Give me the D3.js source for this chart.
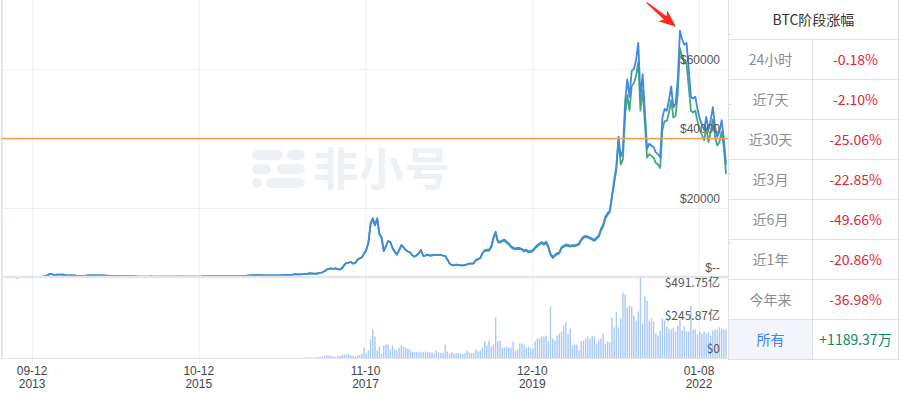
<!DOCTYPE html>
<html>
<head>
<meta charset="utf-8">
<script src="https://cdn.jsdelivr.net/npm/d3@7"></script>
<style>
  body { margin: 0; background: #fff; }
  svg { display: block; }
</style>
</head>
<body>
<svg id="chart" width="900" height="397"></svg>
<script>
// samples every 10 days starting 2013-04-28
const START_DATE = new Date(2013, 3, 28)
const STEP_DAYS = 10

// blue line (USD)
const priceBlue = [
  135,118,115,122,108,100,95,76,90,98,
  105,110,118,128,127,124,125,145,195,330,
  440,750,1050,880,680,800,850,820,790,670,
  580,620,630,580,480,440,480,440,445,580,
  620,590,600,630,620,590,580,510,510,480,
  480,420,400,360,390,345,370,380,370,350,
  330,315,275,210,235,225,240,275,290,260,
  250,235,225,230,240,237,237,228,245,255,
  290,280,285,280,260,230,235,230,235,245,
  265,315,380,330,365,395,440,435,430,450,
  380,380,410,420,410,415,420,420,425,445,
  455,450,530,570,720,670,680,665,655,600,
  580,575,575,605,610,610,640,655,700,715,
  740,770,780,890,1000,900,920,950,1000,1050,
  1150,1200,1100,1080,1200,1300,1500,1800,2300,2500,
  2600,2500,2600,2400,2300,2700,3600,4200,4300,4500,
  4000,4200,5100,5500,5800,6800,7900,10000,15500,17000,
  15000,17000,12500,11500,7600,9000,10500,10200,8500,7400,
  6600,7800,9300,8700,7900,7500,7200,6400,6000,6400,
  7000,7900,6200,6300,6600,6300,6400,6500,6500,6500,
  6500,6300,6200,5200,4000,3600,3500,3700,3600,3500,
  3500,3600,3800,4000,4000,4100,5000,5300,5600,7000,
  7900,8000,8000,9000,11500,13200,10500,10300,10700,10900,
  10300,9800,9000,8600,8400,8500,8500,8200,7800,8000,
  7500,7700,7900,8700,9300,9800,10200,9700,10300,9000,
  6800,5900,6500,7000,7200,8700,9100,9500,9400,9200,
  9300,9300,9500,9800,11000,11700,12000,11800,11500,11200,
  10800,11500,12000,14000,15200,17500,18500,19200,23500,28000,
  32000,40500,34800,36600,50500,57000,52000,59500,60000,62500,
  67500,52000,58500,48000,37000,38500,38000,37500,36000,35500,
  34500,46000,48500,48000,51000,55000,49000,50000,57000,71000,
  68500,67000,67500,60000,52000,51500,52000,48500,45800,44000,
  42400,46200,42400,45300,49000,43400,40500,42000,45300,40000,
  32400
]

// green line (USD)
const priceGreen = [
  135,118,115,122,108,100,95,76,90,98,
  105,110,118,128,127,124,125,145,195,330,
  440,750,1050,880,680,800,850,820,790,670,
  580,620,630,580,480,440,480,440,445,580,
  620,590,600,630,620,590,580,510,510,480,
  480,420,400,360,390,345,370,380,370,350,
  330,315,275,210,235,225,240,275,290,260,
  250,235,225,230,240,237,237,228,245,255,
  290,280,285,280,260,230,235,230,235,245,
  265,315,380,330,365,395,440,435,430,450,
  380,380,410,420,410,415,420,420,425,445,
  455,450,530,570,720,670,680,665,655,600,
  580,575,575,605,610,610,640,655,700,715,
  740,770,780,890,1000,900,920,950,1000,1050,
  1150,1200,1100,1080,1200,1300,1500,1800,2300,2500,
  2600,2500,2600,2400,2300,2700,3600,4200,4300,4500,
  4000,4200,5100,5500,5800,6800,7900,10000,15500,17000,
  15000,17000,12500,11500,7600,9000,10500,10200,8500,7400,
  6600,7800,9300,8700,7900,7500,7200,6400,6000,6400,
  7000,7900,6200,6300,6600,6300,6400,6500,6500,6500,
  6500,6300,6200,5200,4000,3600,3500,3700,3600,3500,
  3500,3600,3800,4000,4000,4100,5000,5300,5600,7000,
  7600,7700,7700,8700,11200,12800,10200,10000,10400,10600,
  10000,9500,8700,8300,8100,8200,8200,7900,7500,7700,
  7200,7400,7600,8400,9000,9500,9900,9400,10000,8700,
  6500,5600,6200,6700,6900,8400,8800,9200,9100,8900,
  9000,9000,9200,9500,10700,11400,11700,11500,11200,10900,
  10500,11200,11700,13500,14700,17000,18000,18700,23000,27000,
  31000,39500,32500,34000,46500,52500,48000,55000,56000,58000,
  62000,48000,54000,44500,34500,35500,35000,34500,33000,32500,
  31500,42500,45000,45000,47500,51000,46000,46500,53000,66000,
  63500,62000,61500,55000,48000,47500,48000,45000,42500,41000,
  39500,43000,39000,42000,45500,40500,38000,39000,42000,37500,
  29800
]

// volume, 亿 USD
const volume = [
  0.6,0.5,0.4,0.4,0.3,0.3,0.3,0.3,0.3,0.3,
  0.3,0.3,0.3,0.4,0.4,0.4,0.5,0.8,1.2,2.0,
  3.0,4.0,5.0,3.0,2.0,1.5,1.5,1.2,1.5,1.2,
  1.0,0.8,0.7,0.6,0.8,0.5,0.4,0.5,0.4,0.5,
  0.5,0.4,0.4,0.3,0.3,0.3,0.3,0.3,0.2,0.2,
  0.2,0.3,0.4,0.3,0.3,0.2,0.2,0.2,0.2,0.2,
  0.2,0.3,0.4,0.5,0.4,0.3,0.2,0.2,0.3,0.2,
  0.2,0.2,0.2,0.2,0.2,0.2,0.2,0.2,0.2,0.3,
  0.3,0.3,0.3,0.3,0.4,0.5,0.3,0.3,0.3,0.3,
  0.4,0.8,1.0,0.8,0.6,0.7,0.9,0.7,0.6,0.5,
  0.6,0.6,0.7,0.6,0.5,0.6,0.5,0.5,0.6,0.6,
  0.7,0.7,1.0,1.5,2.5,1.8,1.5,1.0,0.8,0.8,
  0.7,0.7,0.7,0.8,0.8,0.8,0.9,0.9,1.0,1.2,
  1.5,1.2,1.3,1.8,2.5,2.5,6,6,7,8,
  9,8,8,9,11,11,15,22,26,22,
  22,15,15,22,19,26,30,30,34,22,
  19,15,19,26,37,82,37,60,142,216,
  164,60,89,37,97,104,104,67,97,67,
  60,82,97,89,82,75,67,52,48,48,
  52,45,48,52,48,45,45,37,60,45,
  41,41,104,52,37,45,37,37,41,37,
  34,37,60,45,41,41,67,52,60,82,
  127,97,134,89,104,305,127,134,82,82,
  89,82,82,127,60,67,112,112,104,82,
  89,75,75,127,149,149,164,164,171,127,
  387,149,134,171,186,201,246,276,186,224,
  97,104,104,60,127,134,149,164,149,171,
  164,112,134,149,186,112,127,119,305,231,
  350,231,298,492,477,380,395,387,320,283,
  350,618,261,462,432,283,298,276,186,171,
  209,298,283,238,224,216,231,201,246,290,
  209,238,201,201,395,216,216,179,201,186,
  201,186,194,171,209,216,216,231,224,216,
  216
]

const priceTicks = [0, 20000, 40000, 60000]
const priceMinorTicks = [10000, 30000, 50000, 70000]
const volumeTicks = [0, 245.87, 491.75]
const refPrice = 40000
const tickDates = [new Date(2013, 8, 12), new Date(2015, 9, 12), new Date(2017, 10, 10), new Date(2019, 11, 10), new Date(2022, 0, 8)]

const periodLabels = ["24小时", "近7天", "近30天", "近3月", "近6月", "近1年", "今年来", "所有"]
const periodChanges = ["-0.18%", "-2.10%", "-25.06%", "-22.85%", "-49.66%", "-20.86%", "-36.98%", "+1189.37万"]

const GRID_COLOR = "#eef0f5"
const BORDER_COLOR = "#e3e6ee"
const BLUE = "#4189de"
const GREEN = "#43a77f"
const BAR_COLOR = "#a9c9f6"
const LATIN = "'Liberation Sans', Arial, sans-serif"
const CJK = "'Noto Sans CJK SC', 'Liberation Sans', sans-serif"

const svg = d3.select("#chart")

const dateAt = i => d3.timeDay.offset(START_DATE, i * STEP_DAYS)

const x = d3.scaleTime()
  .domain([START_DATE, new Date(2022, 4, 25)])
  .range([2, 729.1])

const yPrice = d3.scaleLinear().domain([0, 80000]).range([277.5, -0.5])
const yVol = d3.scaleLinear().domain([0, 491.75]).range([358.5, 292.5])

// vertical grid + small ticks under the volume pane
svg.append("g")
  .attr("transform", "translate(0,363)")
  .call(d3.axisBottom(x).tickValues(tickDates).tickSize(-363).tickFormat(""))
  .call(g => g.select(".domain").remove())
  .call(g => g.selectAll(".tick line").attr("stroke", GRID_COLOR))

// horizontal price grid
svg.append("g")
  .attr("transform", "translate(728,0)")
  .call(d3.axisLeft(yPrice).tickValues(priceTicks.slice(1)).tickSize(726).tickFormat(""))
  .call(g => g.select(".domain").remove())
  .call(g => g.selectAll(".tick line").attr("stroke", GRID_COLOR))

// watermark
const wm = svg.append("g").attr("fill", "#edf0f5")
const pills = [[252, 150, 31], [287, 150, 18], [252, 164, 19], [277, 164, 28], [252, 178, 10], [266, 178, 39]]
wm.selectAll("rect").data(pills).enter().append("rect")
  .attr("x", d => d[0]).attr("y", d => d[1])
  .attr("width", d => d[2]).attr("height", 10).attr("rx", 5)
wm.append("text")
  .attr("x", 313).attr("y", 186)
  .attr("font-family", CJK).attr("font-weight", "bold")
  .attr("font-size", 45).attr("letter-spacing", 1)
  .text("非小号")

// volume bars
svg.append("g").selectAll("rect")
  .data(volume).enter().append("rect")
  .attr("x", (d, i) => x(dateAt(i)) - 0.7)
  .attr("width", 1.4)
  .attr("y", d => yVol(d))
  .attr("height", d => yVol(0) - yVol(d))
  .attr("fill", BAR_COLOR)

// price lines
const line = d3.line().x((d, i) => x(dateAt(i))).y(d => yPrice(d))
svg.append("path").datum(priceGreen)
  .attr("d", line).attr("fill", "none")
  .attr("stroke", GREEN).attr("stroke-width", 1.8).attr("stroke-linejoin", "round")
svg.append("path").datum(priceBlue)
  .attr("d", line).attr("fill", "none")
  .attr("stroke", BLUE).attr("stroke-width", 1.8).attr("stroke-linejoin", "round")

// pane borders (drawn over the flat early part of the lines)
svg.append("line").attr("x1", 2).attr("x2", 728).attr("y1", 277).attr("y2", 277)
  .attr("stroke", BORDER_COLOR).attr("stroke-width", 2.5)
svg.append("line").attr("x1", 2).attr("x2", 728).attr("y1", 358.5).attr("y2", 358.5)
  .attr("stroke", BORDER_COLOR)
svg.append("line").attr("x1", 2).attr("x2", 2).attr("y1", 0).attr("y2", 359)
  .attr("stroke", BORDER_COLOR).attr("stroke-width", 2)

// reference line
svg.append("line")
  .attr("x1", 2).attr("x2", 728)
  .attr("y1", yPrice(refPrice)).attr("y2", yPrice(refPrice))
  .attr("stroke", "#f6a04d").attr("stroke-width", 1.6)

// right axis with small ticks
svg.append("g")
  .attr("transform", "translate(728,0)")
  .call(d3.axisRight(yPrice).tickValues(priceMinorTicks).tickSize(3).tickFormat(""))
  .call(g => g.select(".domain").remove())
  .call(g => g.selectAll(".tick line").attr("stroke", "#c9ccd6"))

// price labels
svg.append("g").selectAll("text")
  .data(priceTicks).enter().append("text")
  .attr("x", 720).attr("y", d => yPrice(d) - 5.5)
  .attr("text-anchor", "end")
  .attr("font-family", LATIN).attr("font-size", 12).attr("fill", "#555")
  .text(d => d === 0 ? "$--" : "$" + d)

// volume labels
svg.append("g").selectAll("text")
  .data(volumeTicks).enter().append("text")
  .attr("x", 720).attr("y", d => yVol(d) - 6)
  .attr("text-anchor", "end")
  .attr("font-family", CJK).attr("font-size", 12).attr("fill", "#555")
  .text(d => d === 0 ? "$0" : "$" + d.toFixed(2) + "亿")

// date labels
const dateLabels = svg.append("g").selectAll("text")
  .data(tickDates).enter().append("text")
  .attr("x", d => x(d))
  .attr("text-anchor", "middle")
  .attr("font-family", LATIN).attr("font-size", 12).attr("fill", "#444")
dateLabels.append("tspan").attr("x", d => x(d)).attr("y", 374.5).text(d3.timeFormat("%m-%d"))
dateLabels.append("tspan").attr("x", d => x(d)).attr("y", 387.5).text(d3.timeFormat("%Y"))

// arrow at the peak
const maxIdx = d3.maxIndex(priceBlue)
const tipX = x(dateAt(maxIdx)) - 4
const tipY = yPrice(priceBlue[maxIdx]) - 4
svg.append("path")
  .attr("transform", `translate(${tipX},${tipY}) rotate(39.6)`)
  .attr("d", "M0,0 L-17,-7 L-14,-2.2 L-38,-0.6 L-38,0.6 L-14,2.2 L-17,7 Z")
  .attr("fill", "#ff2b1c")

// period change table
const TX = 728.5, TW = 170, COL = 812.5, ROW_H = 40
const table = svg.append("g")
table.append("rect").attr("x", TX).attr("y", 7 * ROW_H + ROW_H).attr("width", COL - TX).attr("height", ROW_H)
  .attr("fill", "#f4f5fa")
table.append("text")
  .attr("x", TX + TW / 2).attr("y", ROW_H / 2).attr("dy", "0.35em")
  .attr("text-anchor", "middle")
  .attr("font-family", CJK).attr("font-size", 14).attr("fill", "#333")
  .text("BTC阶段涨幅")

const rows = table.selectAll("g.row")
  .data(periodLabels).enter().append("g")
  .attr("transform", (d, i) => `translate(0,${(i + 1) * ROW_H})`)
rows.append("text")
  .attr("x", (TX + COL) / 2).attr("y", ROW_H / 2).attr("dy", "0.35em")
  .attr("text-anchor", "middle")
  .attr("font-family", CJK).attr("font-size", 14)
  .attr("fill", (d, i) => i === periodLabels.length - 1 ? "#3b7ff0" : "#8c8c8c")
  .text(d => d)
rows.append("text")
  .attr("x", (COL + TX + TW) / 2).attr("y", ROW_H / 2).attr("dy", "0.35em")
  .attr("text-anchor", "middle")
  .attr("font-family", CJK).attr("font-size", 14)
  .attr("fill", (d, i) => periodChanges[i][0] === "+" ? "#0e8a62" : "#e3243a")
  .text((d, i) => periodChanges[i])

const lines = table.append("g").attr("stroke", "#dfe1ea").attr("stroke-width", 1)
for (let r = 1; r <= periodLabels.length + 1; r++) {
  lines.append("line").attr("x1", TX).attr("x2", TX + TW).attr("y1", r * ROW_H - 0.5).attr("y2", r * ROW_H - 0.5)
}
lines.append("line").attr("x1", TX).attr("x2", TX).attr("y1", 0).attr("y2", (periodLabels.length + 1) * ROW_H)
lines.append("line").attr("x1", TX + TW).attr("x2", TX + TW).attr("y1", 0).attr("y2", (periodLabels.length + 1) * ROW_H)
lines.append("line").attr("x1", COL).attr("x2", COL).attr("y1", ROW_H).attr("y2", (periodLabels.length + 1) * ROW_H)
</script>
</body>
</html>
